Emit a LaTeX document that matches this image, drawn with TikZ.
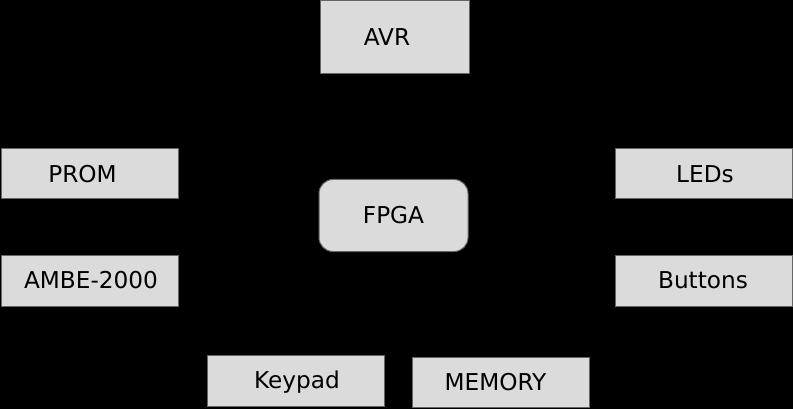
\documentclass[tikz,border=0pt]{standalone}
\usepackage{fontspec}
\setmainfont{DejaVu Sans}
\begin{document}
\begin{tikzpicture}[x=1pt,y=-1pt,
  blk/.style={draw=black!60, line width=1pt, fill=black!14, inner sep=0pt},
  lbl/.style={font=\fontsize{23.2}{27}\selectfont, inner sep=0pt, text=black, text height=16.9pt, text depth=0pt}]
\fill[black] (0,0) rectangle (793,409);
\useasboundingbox (0,0) rectangle (793,409);
% boxes
\node[blk, minimum width=149pt, minimum height=73pt, label={[lbl,name=avrt,xshift=-7.5pt]center:AVR}] (avr) at (394.5,37.5) {};
\node[blk, minimum width=177pt, minimum height=50pt, label={[lbl,name=promt,xshift=-7pt]center:PROM}] (prom) at (89.5,174) {};
\node[blk, minimum width=177pt, minimum height=51pt, label={[lbl,name=ambet,xshift=1.5pt]center:AMBE-2000}] (ambe) at (89.5,280.5) {};
\node[blk, rounded corners=14pt, minimum width=149pt, minimum height=72pt, label={[lbl,name=fpgat]center:FPGA}] (fpga) at (393.5,215.5) {};
\node[blk, minimum width=177pt, minimum height=50pt, label={[lbl,name=ledst,xshift=1.5pt]center:LEDs}] (leds) at (703.5,174) {};
\node[blk, minimum width=177pt, minimum height=51pt, label={[lbl,name=buttonst,xshift=-0.5pt]center:Buttons}] (buttons) at (703.5,280.5) {};
\node[blk, minimum width=177pt, minimum height=51pt, label={[lbl,name=keypadt,xshift=1.5pt]center:Keypad}] (keypad) at (295.5,380.5) {};
\node[blk, minimum width=177pt, minimum height=50pt, label={[lbl,name=memoryt,xshift=-5pt]center:MEMORY}] (memory) at (500.5,382.5) {};
\end{tikzpicture}
\end{document}
